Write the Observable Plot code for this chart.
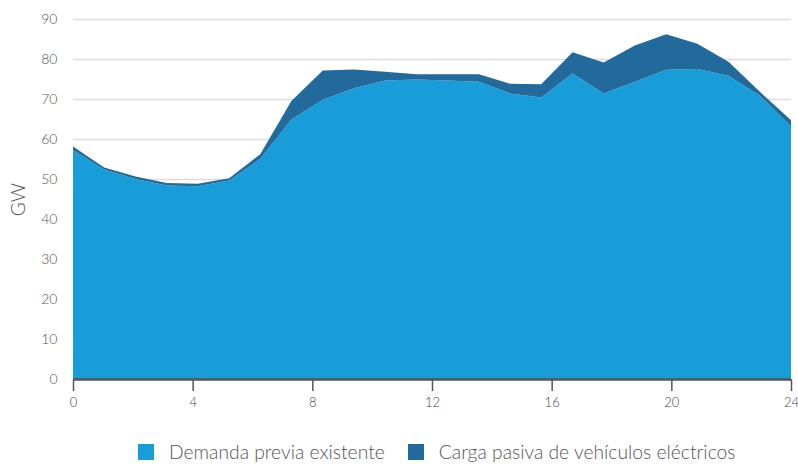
<!DOCTYPE html>
<html>
<head>
<meta charset="utf-8">
<script src="https://cdn.jsdelivr.net/npm/d3@7"></script>
<script src="https://cdn.jsdelivr.net/npm/@observablehq/plot@0.6"></script>
<style>
  body { margin: 0; background: #fff; font-family: Lato, "Open Sans", sans-serif; }
  #chart { width: 798px; }
  .legend { display: flex; justify-content: flex-start; align-items: center; height: 20px; padding-top: 22px; padding-left: 138px; color: #555; font-size: 19.3px; line-height: 20px; font-weight: 300; font-family: Lato, sans-serif; }
  .legend .item { display: flex; align-items: center; margin-right: 23px; }
  .legend .sw { width: 16px; height: 16px; margin-right: 15px; }
</style>
</head>
<body>
<div id="chart"></div>
<script>
const hours = [0, 1.04, 2.09, 3.13, 4.17, 5.22, 6.26, 7.3, 8.35, 9.39, 10.43, 11.48, 12.52, 13.57, 14.61, 15.65, 16.7, 17.74, 18.78, 19.83, 20.87, 21.91, 22.96, 24];
const demanda = [57.2, 52.4, 50.0, 48.4, 48.2, 49.6, 55.0, 64.9, 69.8, 72.7, 74.6, 74.9, 74.6, 74.3, 71.4, 70.4, 76.4, 71.4, 74.3, 77.3, 77.5, 75.8, 70.8, 63.2];
const cargaVE = [0.9, 0.5, 0.6, 0.6, 0.6, 0.6, 1.2, 4.6, 7.3, 4.7, 2.2, 1.3, 1.6, 1.9, 2.4, 3.3, 5.3, 7.7, 9.1, 8.9, 6.3, 3.5, 1.0, 1.5];
const seriesNames = ["Demanda previa existente", "Carga pasiva de vehículos eléctricos"];
const seriesColors = ["#189dd8", "#22699c"];
const xTicks = [0, 4, 8, 12, 16, 20, 24];
const yTicks = [0, 10, 20, 30, 40, 50, 60, 70, 80, 90];

const rows = [];
hours.forEach((h, i) => {
  rows.push({hour: h, value: demanda[i], series: seriesNames[0]});
  rows.push({hour: h, value: cargaVE[i], series: seriesNames[1]});
});

const chart = Plot.plot({
  width: 798,
  height: 420,
  marginLeft: 73,
  marginRight: 7,
  marginTop: 19,
  marginBottom: 41,
  style: {fontFamily: "Lato, sans-serif", fontSize: "14px", fontWeight: 300, color: "#555"},
  x: {domain: [0, 24]},
  y: {domain: [0, 90]},
  color: {domain: seriesNames, range: seriesColors},
  marks: [
    Plot.gridY(yTicks, {stroke: "#dcdcdc", strokeOpacity: 1, strokeWidth: 1.5}),
    Plot.areaY(rows, {x: "hour", y: "value", fill: "series", order: seriesNames}),
    Plot.ruleY([0], {stroke: "#555", strokeWidth: 2.5}),
    Plot.axisX({ticks: xTicks, tickSize: 12, tickPadding: 6, stroke: "#555", strokeWidth: 1.5, fill: "#444", fontSize: 13, label: null}),
    Plot.axisY({ticks: yTicks, tickSize: 0, tickPadding: 16, fill: "#555", label: "GW", labelAnchor: "center", labelArrow: "none", labelOffset: 62, fontSize: 14}),
  ]
});
chart.querySelectorAll("text").forEach(t => { if (t.textContent === "GW") t.setAttribute("font-size", 19); });
document.getElementById("chart").appendChild(chart);

const legend = document.createElement("div");
legend.className = "legend";
seriesNames.forEach((n, i) => {
  const it = document.createElement("div");
  it.className = "item";
  const sw = document.createElement("span");
  sw.className = "sw";
  sw.style.background = seriesColors[i];
  const t = document.createElement("span");
  t.textContent = n;
  it.appendChild(sw); it.appendChild(t);
  legend.appendChild(it);
});
document.getElementById("chart").appendChild(legend);
</script>
</body>
</html>
